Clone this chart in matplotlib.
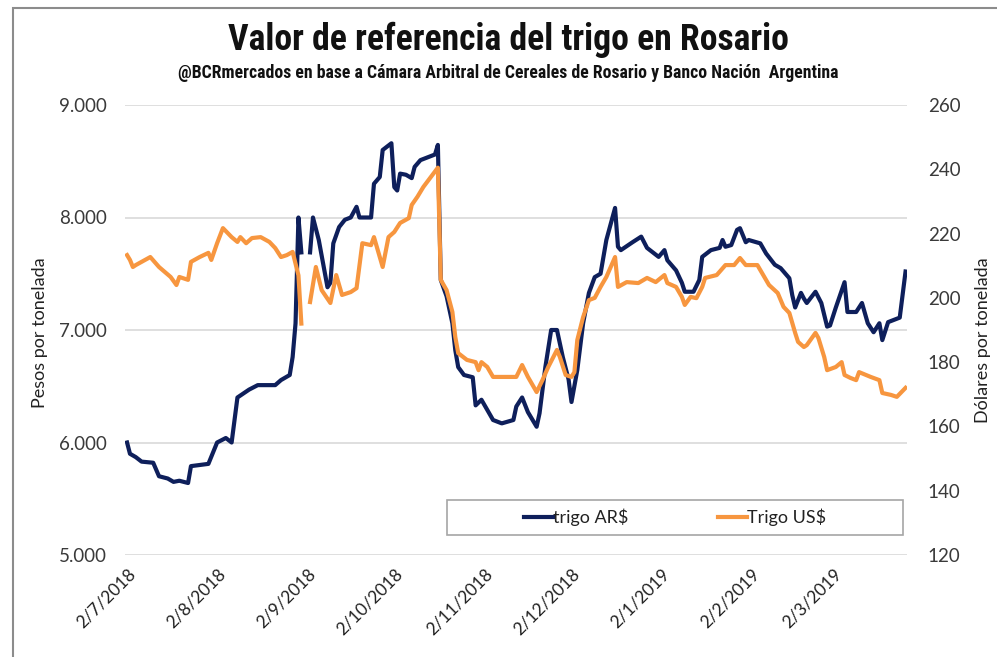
import matplotlib
matplotlib.use("Agg")
import matplotlib.pyplot as plt
from matplotlib import font_manager
from matplotlib.patches import Rectangle
import pandas as pd
import numpy as np

# ---------------- data ----------------
ars_dates = [
    "2018-07-02", "2018-07-03", "2018-07-05", "2018-07-07", "2018-07-11", "2018-07-13",
    "2018-07-16", "2018-07-18", "2018-07-20", "2018-07-23", "2018-07-24", "2018-07-27",
    "2018-07-30", "2018-08-02", "2018-08-05", "2018-08-07", "2018-08-09", "2018-08-13",
    "2018-08-16", "2018-08-22", "2018-08-24", "2018-08-27", "2018-08-28", "2018-08-29",
    "2018-08-30", "2018-08-31", "2018-09-01", "2018-09-03", "2018-09-04", "2018-09-06",
    "2018-09-09", "2018-09-10", "2018-09-11", "2018-09-13", "2018-09-15", "2018-09-17",
    "2018-09-19", "2018-09-20", "2018-09-24", "2018-09-25", "2018-09-27", "2018-09-28",
    "2018-10-01", "2018-10-02", "2018-10-03", "2018-10-04", "2018-10-06", "2018-10-08",
    "2018-10-09", "2018-10-11", "2018-10-14", "2018-10-16", "2018-10-17", "2018-10-18",
    "2018-10-20", "2018-10-22", "2018-10-23", "2018-10-24", "2018-10-26", "2018-10-29",
    "2018-10-30", "2018-11-01", "2018-11-03", "2018-11-05", "2018-11-08", "2018-11-12",
    "2018-11-13", "2018-11-15", "2018-11-17", "2018-11-20", "2018-11-21", "2018-11-23",
    "2018-11-25", "2018-11-27", "2018-11-29", "2018-12-01", "2018-12-02", "2018-12-04",
    "2018-12-06", "2018-12-08", "2018-12-10", "2018-12-12", "2018-12-14", "2018-12-17",
    "2018-12-18", "2018-12-19", "2018-12-23", "2018-12-26", "2018-12-28", "2019-01-01",
    "2019-01-03", "2019-01-04", "2019-01-07", "2019-01-09", "2019-01-10", "2019-01-13",
    "2019-01-15", "2019-01-16", "2019-01-19", "2019-01-22", "2019-01-23", "2019-01-24",
    "2019-01-26", "2019-01-28", "2019-01-29", "2019-01-31", "2019-02-01", "2019-02-05",
    "2019-02-07", "2019-02-10", "2019-02-12", "2019-02-14", "2019-02-15", "2019-02-16",
    "2019-02-17", "2019-02-19", "2019-02-20", "2019-02-21", "2019-02-24", "2019-02-26",
    "2019-02-28", "2019-03-01", "2019-03-03", "2019-03-06", "2019-03-07", "2019-03-10",
    "2019-03-12", "2019-03-14", "2019-03-16", "2019-03-18", "2019-03-19", "2019-03-21",
    "2019-03-24", "2019-03-25", "2019-03-27",
]
ars_values = [
    6000, 5900, 5870, 5830, 5820, 5700,
    5680, 5650, 5660, 5640, 5790, 5800,
    5810, 6000, 6040, 6000, 6400, 6470,
    6510, 6510, 6555, 6600, 6760, 7060,
    8000, 7690, np.nan, 7690, 8000, 7800,
    7380, 7420, 7770, 7915, 7980, 8000,
    8095, 8000, 8000, 8300, 8360, 8600,
    8660, 8270, 8240, 8390, 8380, 8350,
    8450, 8510, 8540, 8560, 8645, 7445,
    7300, 7060, 6820, 6670, 6600, 6580,
    6330, 6380, 6290, 6200, 6170, 6200,
    6320, 6400, 6270, 6140, 6260, 6670,
    7000, 7000, 6760, 6560, 6360, 6645,
    7060, 7330, 7470, 7500, 7800, 8085,
    7740, 7710, 7780, 7830, 7730, 7650,
    7710, 7620, 7530, 7420, 7340, 7340,
    7445, 7650, 7710, 7730, 7800, 7740,
    7755, 7890, 7905, 7780, 7800, 7770,
    7680, 7580, 7550, 7490, 7460, 7310,
    7200, 7330, 7280, 7240, 7340, 7240,
    7030, 7040, 7200, 7425, 7160, 7160,
    7240, 7060, 6980, 7060, 6910, 7070,
    7100, 7110, 7520,
]

usd_dates = [
    "2018-07-02", "2018-07-03", "2018-07-04", "2018-07-05", "2018-07-07", "2018-07-10",
    "2018-07-13", "2018-07-17", "2018-07-19", "2018-07-20", "2018-07-23", "2018-07-24",
    "2018-07-27", "2018-07-30", "2018-07-31", "2018-08-02", "2018-08-04", "2018-08-07",
    "2018-08-09", "2018-08-10", "2018-08-12", "2018-08-14", "2018-08-17", "2018-08-20",
    "2018-08-22", "2018-08-24", "2018-08-26", "2018-08-28", "2018-08-30", "2018-08-31",
    "2018-09-01", "2018-09-03", "2018-09-05", "2018-09-07", "2018-09-10", "2018-09-12",
    "2018-09-14", "2018-09-17", "2018-09-19", "2018-09-21", "2018-09-24", "2018-09-25",
    "2018-09-28", "2018-09-30", "2018-10-02", "2018-10-04", "2018-10-07", "2018-10-08",
    "2018-10-10", "2018-10-12", "2018-10-17", "2018-10-18", "2018-10-20", "2018-10-22",
    "2018-10-23", "2018-10-24", "2018-10-27", "2018-10-30", "2018-10-31", "2018-11-01",
    "2018-11-03", "2018-11-05", "2018-11-13", "2018-11-15", "2018-11-17", "2018-11-20",
    "2018-11-22", "2018-11-24", "2018-11-27", "2018-11-28", "2018-11-30", "2018-12-02",
    "2018-12-03", "2018-12-04", "2018-12-06", "2018-12-08", "2018-12-10", "2018-12-12",
    "2018-12-14", "2018-12-17", "2018-12-18", "2018-12-21", "2018-12-25", "2018-12-28",
    "2018-12-31", "2019-01-03", "2019-01-04", "2019-01-07", "2019-01-09", "2019-01-10",
    "2019-01-12", "2019-01-14", "2019-01-16", "2019-01-17", "2019-01-21", "2019-01-24",
    "2019-01-27", "2019-01-29", "2019-01-31", "2019-02-04", "2019-02-06", "2019-02-08",
    "2019-02-11", "2019-02-13", "2019-02-15", "2019-02-17", "2019-02-18", "2019-02-20",
    "2019-02-21", "2019-02-24", "2019-02-25", "2019-02-27", "2019-02-28", "2019-03-03",
    "2019-03-05", "2019-03-06", "2019-03-08", "2019-03-10", "2019-03-11", "2019-03-15",
    "2019-03-18", "2019-03-19", "2019-03-22", "2019-03-24", "2019-03-27",
]
usd_values = [
    213.3, 211.8, 209.6, 210.2, 211.2, 212.7,
    209.6, 206.5, 204.0, 206.5, 205.6, 211.2,
    212.7, 214.0, 211.8, 217.0, 221.7, 218.9,
    217.4, 218.9, 217.0, 218.6, 218.9, 217.4,
    215.5, 212.7, 213.3, 214.3, 207.0, 192.0,
    np.nan, 198.7, 209.6, 202.4, 198.4, 207.1,
    200.9, 201.8, 203.0, 217.0, 216.4, 218.9,
    209.6, 218.9, 220.5, 223.3, 224.8, 228.9,
    231.5, 234.5, 240.5, 205.6, 202.4, 195.6,
    187.8, 182.8, 180.7, 180.0, 177.5, 180.0,
    178.5, 175.4, 175.4, 179.1, 175.4, 170.7,
    174.4, 178.5, 183.8, 181.6, 176.0, 175.4,
    176.9, 186.9, 194.0, 199.3, 200.0, 203.4,
    206.5, 212.7, 203.4, 204.9, 204.6, 206.2,
    204.9, 207.1, 204.6, 203.4, 200.3, 197.8,
    200.3, 199.9, 203.4, 206.2, 207.1, 210.2,
    210.2, 212.4, 210.2, 210.2, 207.1, 204.0,
    201.5, 197.2, 195.3, 189.1, 186.3, 184.7,
    185.3, 189.1, 187.5, 181.6, 177.5, 178.5,
    180.0, 176.0, 175.1, 174.4, 176.9, 175.4,
    174.4, 170.4, 169.8, 169.2, 172.0,
]

x_tick_dates = ["2018-07-02", "2018-08-02", "2018-09-02", "2018-10-02", "2018-11-02",
                "2018-12-02", "2019-01-02", "2019-02-02", "2019-03-02"]
left_ticks = [5000, 6000, 7000, 8000, 9000]
right_ticks = [120, 140, 160, 180, 200, 220, 240, 260]

title = "Valor de referencia del trigo en Rosario"
subtitle = "@BCRmercados en base a Cámara Arbitral de Cereales de Rosario y Banco Nación  Argentina"
series_names = ["trigo AR$", "Trigo US$"]
left_label = "Pesos por tonelada"
right_label = "Dólares por tonelada"

# ---------------- style ----------------
NAVY = "#0e1f5b"
ORANGE = "#f7963f"
GRID = "#d9d9d9"
TXT = "#3a3a3a"

available = {f.name for f in font_manager.fontManager.ttflist}
BODY = "Lato" if "Lato" in available else "DejaVu Sans"
COND = None
for cand in ["Liberation Sans Narrow", "Roboto Condensed", "Open Sans Condensed", "DejaVu Sans Condensed"]:
    if cand in available:
        COND = cand
        break
if COND is None:
    COND = "Roboto" if "Roboto" in available else "DejaVu Sans"

plt.rcParams["font.family"] = [BODY, "DejaVu Sans"]

fig = plt.figure(figsize=(9.97, 6.57), dpi=100)
W, H = 997, 657
ax = fig.add_axes([125 / W, 1 - 555 / H, (907 - 125) / W, (555 - 105) / H])
ax2 = ax.twinx()

ars_x = pd.to_datetime(ars_dates)
usd_x = pd.to_datetime(usd_dates)

ax.plot(ars_x, ars_values, color=NAVY, lw=3.0, solid_joinstyle="round", label=series_names[0])
ax2.plot(usd_x, usd_values, color=ORANGE, lw=3.0, solid_joinstyle="round", label=series_names[1])

ax.set_ylim(5000, 9000)
ax2.set_ylim(120, 260)
ax.set_xlim(pd.Timestamp("2018-07-01 07:00"), pd.Timestamp("2019-03-27 12:00"))

ax.set_yticks(left_ticks)
ax.set_yticklabels([f"{v:,}".replace(",", ".") for v in left_ticks])
ax2.set_yticks(right_ticks)
ax2.set_yticklabels([str(v) for v in right_ticks])

xt = pd.to_datetime(x_tick_dates)
ax.set_xticks(xt)
ax.set_xticklabels([f"{d.day}/{d.month}/{d.year}" for d in xt], rotation=45,
                   ha="right", va="top", rotation_mode="anchor")

for a in (ax, ax2):
    for s in a.spines.values():
        s.set_visible(False)
ax.grid(axis="y", color=GRID, lw=1.2)
ax.set_axisbelow(True)
ax.tick_params(axis="y", length=0, pad=13, labelsize=13.5, labelcolor=TXT)
ax.tick_params(axis="x", length=0, pad=8, labelsize=12.5, labelcolor="#222222")
ax2.tick_params(axis="y", length=0, pad=15, labelsize=13.5, labelcolor=TXT)

# titles
fig.text(0.51, 1 - 40 / H, title, ha="center", va="center", fontsize=25.7,
         fontweight="bold", family=[COND, "DejaVu Sans"], color="#111111")
fig.text(0.51, 1 - 73 / H, subtitle, ha="center", va="center", fontsize=12.8,
         fontweight="bold", family=[COND, "DejaVu Sans"], color="#111111")

fig.text(40 / W, 1 - 333 / H, left_label, rotation=90, ha="center", va="center",
         fontsize=13, color="#222222")
fig.text(983 / W, 1 - 340 / H, right_label, rotation=90, ha="center", va="center",
         fontsize=13, color="#222222")

# legend box + legend
bx0, bx1 = (447 - 125) / (907 - 125), (903 - 125) / (907 - 125)
by0, by1 = (555 - 535) / 450, (555 - 500) / 450
ax2.add_patch(Rectangle((bx0, by0), bx1 - bx0, by1 - by0, transform=ax2.transAxes,
                        fill=True, facecolor="white", edgecolor="#a6a6a6", lw=1.2, zorder=5))
h1 = ax.get_lines()[0]
h2 = ax2.get_lines()[0]
leg = ax2.legend([h1, h2], series_names, loc="center", bbox_to_anchor=((bx0 + bx1) / 2, (by0 + by1) / 2),
                 bbox_transform=ax2.transAxes, ncol=2, frameon=False, fontsize=13,
                 handlelength=1.6, handletextpad=0.0, columnspacing=5.0)
leg.set_zorder(6)
for t in leg.get_texts():
    t.set_color("#222222")

# outer frame of the chart area
fig.add_artist(Rectangle((13 / W, -0.1), 1.2, 1.1 - 8 / H, transform=fig.transFigure,
                         fill=False, edgecolor="#8c8c8c", lw=1.5))

fig.savefig("out.png", dpi=100, facecolor="white")
